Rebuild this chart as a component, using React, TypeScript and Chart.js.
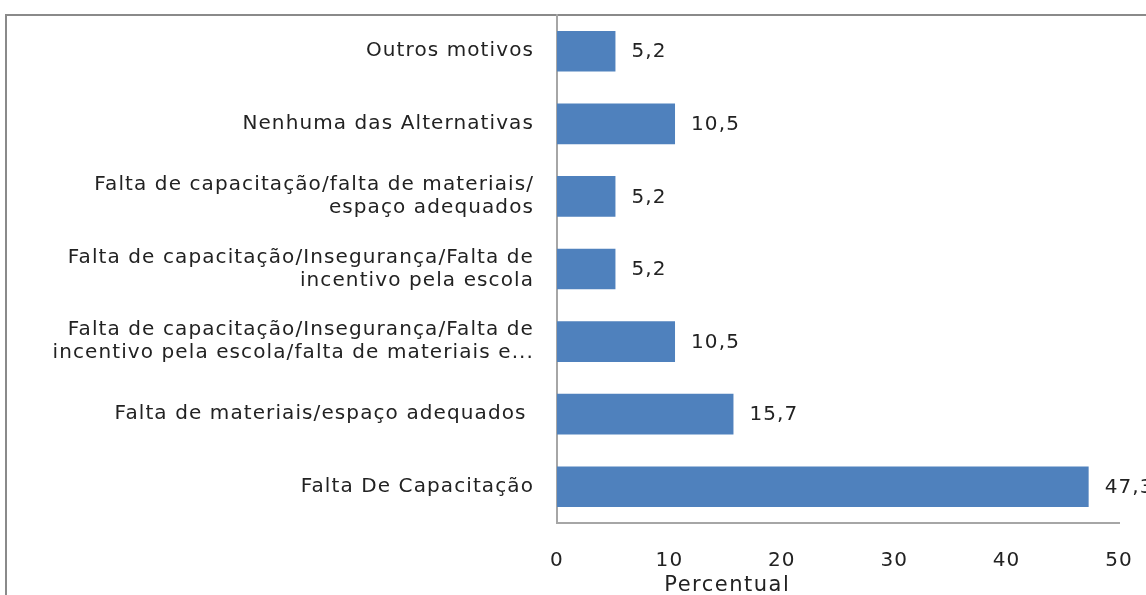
import React, { useEffect, useRef } from "react";
import { Chart, registerables } from "chart.js";

Chart.register(...registerables);

const categories: (string | string[])[] = [
  "Outros motivos",
  "Nenhuma das Alternativas",
  ["Falta de capacitação/falta de materiais/", "espaço adequados"],
  ["Falta de capacitação/Insegurança/Falta de", "incentivo pela escola"],
  ["Falta de capacitação/Insegurança/Falta de", "incentivo pela escola/falta de materiais e..."],
  "Falta de materiais/espaço adequados ",
  "Falta De Capacitação",
];
const values = [5.2, 10.5, 5.2, 5.2, 10.5, 15.7, 47.3];
const valueLabels = ["5,2", "10,5", "5,2", "5,2", "10,5", "15,7", "47,3"];
const xTicks = [0, 10, 20, 30, 40, 50];
const axisTitle = "Percentual";

const FONT = "'DejaVu Sans', sans-serif";
const SPACING = "1.1px";

const decorPlugin = {
  id: "decor",
  beforeDraw(chart: any) {
    const ctx = chart.ctx;
    ctx.save();
    ctx.strokeStyle = "#8a8a8a";
    ctx.lineWidth = 2;
    ctx.beginPath();
    ctx.moveTo(6, chart.height + 5);
    ctx.lineTo(6, 15);
    ctx.lineTo(chart.width + 5, 15);
    ctx.stroke();
    ctx.restore();
    ctx.letterSpacing = SPACING;
  },
  afterDatasetsDraw(chart: any) {
    const ctx = chart.ctx;
    const meta = chart.getDatasetMeta(0);
    ctx.save();
    ctx.letterSpacing = SPACING;
    ctx.fillStyle = "#222";
    ctx.font = `20px ${FONT}`;
    ctx.textAlign = "left";
    ctx.textBaseline = "middle";
    meta.data.forEach((bar: any, i: number) => {
      ctx.fillText(valueLabels[i], bar.x + 16, bar.y + 1);
    });
    const area = chart.chartArea;
    ctx.font = `21px ${FONT}`;
    ctx.letterSpacing = "1.5px";
    ctx.textAlign = "center";
    ctx.textBaseline = "middle";
    ctx.fillText(axisTitle, area.left + (area.right - area.left) * 0.303, area.bottom + 63);
    ctx.restore();
  },
  afterDraw(chart: any) {
    chart.ctx.letterSpacing = "0px";
  },
};

export default function App() {
  const ref = useRef<HTMLCanvasElement | null>(null);
  useEffect(() => {
    document.body.style.margin = "0";
    const chart = new Chart(ref.current as HTMLCanvasElement, {
      type: "bar",
      data: {
        labels: categories,
        datasets: [
          {
            data: values,
            backgroundColor: "#4f81bd",
            borderWidth: 0,
            categoryPercentage: 0.56,
            barPercentage: 1,
          },
        ],
      },
      options: {
        indexAxis: "y",
        animation: false,
        responsive: false,
        maintainAspectRatio: false,
        layout: { padding: { top: 15, right: 27, left: 0, bottom: 0 } },
        plugins: { legend: { display: false }, tooltip: { enabled: false } },
        scales: {
          x: {
            min: 0,
            max: 50,
            afterBuildTicks(scale: any) {
              scale.ticks = xTicks.map((v) => ({ value: v }));
            },
            grid: { display: false, drawTicks: false },
            border: { display: true, color: "#a6a6a6", width: 2 },
            ticks: { color: "#222", font: { family: FONT, size: 20 }, padding: 26, maxRotation: 0 },
            afterFit(scale: any) {
              scale.height = 72;
              scale.paddingLeft = 0;
              scale.paddingRight = 0;
            },
          },
          y: {
            grid: { display: false, drawTicks: false },
            border: { display: true, color: "#a6a6a6", width: 2 },
            ticks: { color: "#222", font: { family: FONT, size: 20, lineHeight: 1.16 }, padding: 23, autoSkip: false },
            afterFit(scale: any) {
              scale.width = 557;
              scale.paddingTop = 0;
              scale.paddingBottom = 0;
            },
          },
        },
      },
      plugins: [decorPlugin],
    } as any);
    return () => chart.destroy();
  }, []);
  return (
    <div style={{ position: "fixed", left: 0, top: 0, width: 1146, height: 595 }}>
      <canvas ref={ref} width={1146} height={595} />
    </div>
  );
}
